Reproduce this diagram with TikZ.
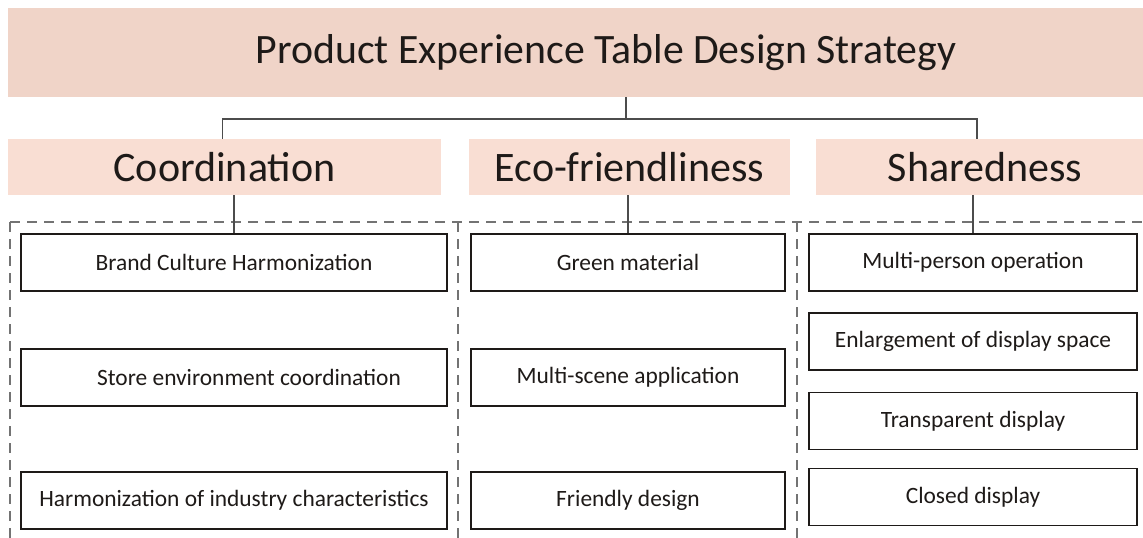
\documentclass[tikz,border=0pt]{standalone}
\usepackage{fontspec}
\setmainfont{Carlito}
\usepackage{tikz}

\definecolor{bandtop}{RGB}{240,212,200}
\definecolor{bandsub}{RGB}{249,222,211}
\definecolor{ink}{RGB}{30,26,24}

\tikzset{
  band/.style={fill=#1, draw=none, text=ink, inner sep=0pt},
  item/.style={draw=ink, line width=1.6pt, fill=white, text=ink, minimum height=57pt,
    inner sep=0pt, font=\fontsize{23.4}{27}\selectfont},
  link/.style={draw=black!70, line width=1.1pt},
  frame/.style={draw=black!55, line width=1.2pt, dash pattern=on 10pt off 7pt}
}

\begin{document}
\begin{tikzpicture}[x=1pt, y=-1pt]
        \clip (0, 0) rectangle (1143, 538);
        % heading bands
        \node[band=bandtop, minimum width=1196pt, minimum height=89pt,
          font=\fontsize{41.8}{48}\selectfont] (title) at (606, 52.5)
          {Product Experience Table Design Strategy};
        \node[band=bandsub, minimum width=433pt, minimum height=56pt,
          font=\fontsize{42}{48}\selectfont] (coord) at (224.5, 167) {Coordination};
        \node[band=bandsub, minimum width=321pt, minimum height=56pt,
          font=\fontsize{42}{48}\selectfont] (eco) at (629.5, 167) {Eco-friendliness};
        \node[band=bandsub, minimum width=338pt, minimum height=56pt,
          font=\fontsize{42}{48}\selectfont] (share) at (985, 167) {\raisebox{-3pt}{Sharedness}};
        \coordinate (fork) at (626, 119);
        \draw[link] (fork |- title.south) -- (fork);
        \draw[link] ([xshift=-2pt]coord.north) |- (fork) -| ([xshift=-8pt]share.north);

        % dashed column frames
        \draw[frame] (10, 222) -- (1143, 222);
        \draw[frame] (10, 222) -- (10, 538);
        \draw[frame] (458, 222) -- (458, 538);
        \draw[frame] (797, 222) -- (797, 538);

        % coordination
        \node[item, minimum width=426pt] (c1) at (234, 262.5) {Brand Culture Harmonization};
        \node[item, minimum width=426pt] (c2) at (234, 377.5) {\hspace*{30pt}Store environment coordination};
        \node[item, minimum width=426pt] (c3) at (234, 500.5) {Harmonization of industry characteristics};
        % eco-friendliness
        \node[item, minimum width=314pt] (e1) at (628, 262.5) {Green material};
        \node[item, minimum width=314pt] (e2) at (628, 377.5) {Multi-scene application};
        \node[item, minimum width=314pt] (e3) at (628, 500.5) {Friendly design};
        % sharedness
        \node[item, minimum width=328pt] (s1) at (973, 262.5) {Multi-person operation};
        \node[item, minimum width=328pt] (s2) at (973, 341.5) {Enlargement of display space};
        \node[item, minimum width=328pt] (s3) at (973, 421) {Transparent display};
        \node[item, minimum width=328pt] (s4) at (973, 497) {Closed display};

        \draw[link] (c1.north |- coord.south) -- (c1.north);
        \draw[link] (e1.north |- eco.south) -- (e1.north);
        \draw[link] (s1.north |- share.south) -- (s1.north);
      \end{tikzpicture}
\end{document}
